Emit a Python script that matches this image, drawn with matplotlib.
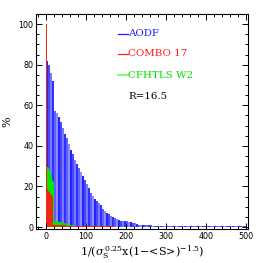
import numpy as np
import matplotlib
matplotlib.use("Agg")
import matplotlib.pyplot as plt
from matplotlib.ticker import MultipleLocator

# ---- data (percent per bin) ----
aodf_bin = 5
aodf = [82, 80, 76, 72, 57, 56, 54, 52, 49, 46,
        44, 41, 38, 36, 33, 31, 29, 27, 25, 23,
        21, 19, 17, 15.5, 14, 13, 12, 11, 9, 8,
        7, 6.3, 5.6, 5, 4.4, 3.9, 3.5, 3.2, 3.0, 2.9,
        2.8, 2.7, 2.5, 2.2, 1.8, 1.4, 1.2, 1.0, 0.9, 0.85,
        0.8, 0.8, 0.8, 0.75, 0.75, 0.7, 0.7, 0.7, 0.65, 0.65,
        0.6, 0.6, 0.6, 0.55, 0.55, 0.5, 0.5, 0.5, 0.5, 0.5,
        0.45, 0.45, 0.45, 0.45, 0.45, 0.4, 0.4, 0.4, 0.4, 0.4,
        0.4, 0.4, 0.4, 0.4, 0.4, 0.4, 0.4, 0.4, 0.4, 0.4,
        0.4, 0.4, 0.4, 0.4, 0.4, 0.4, 0.4, 0.4, 0.4, 0.4]
small_bin = 2.5
cfhtls = [0, 29.5, 29, 28, 27, 25, 23, 22, 3.0, 2.9,
          2.8, 2.7, 2.6, 2.5, 2.4, 2.3, 2.2, 2.1, 2.0, 1.8,
          1.5, 1.3, 1.2, 1.0, 1.0, 0.9, 0.8, 0.8, 0.7, 0.7,
          0.6, 0.6, 0.6, 0.5, 0.5, 0.5, 0.5, 0.5, 0.5, 0.5]
combo = [100, 18.5, 18, 17.5, 16.5, 16, 15.5, 0.9, 0.9, 0.9,
         0.8, 0.8, 0.8, 0.8, 0.8, 0.8, 0.8, 0.8, 0.8, 0.8,
         0.7, 0.7, 0.7, 0.7, 0.7, 0.7, 0.7, 0.7, 0.7, 0.7,
         0.7, 0.7, 0.6, 0.6, 0.6, 0.6, 0.6, 0.6, 0.6, 0.6,
         0.6, 0.6, 0.6, 0.6, 0.6, 0.6, 0.6, 0.6, 0.6, 0.6,
         0.5, 0.5, 0.5, 0.5, 0.5, 0.5, 0.5, 0.5, 0.5, 0.5,
         0.5, 0.5, 0.5, 0.5, 0.5, 0.5, 0.5, 0.5]
labels = ["AODF", "COMBO 17", "CFHTLS W2"]
annot = "R=16.5"

plt.rcParams['hatch.linewidth'] = 0.6
plt.rcParams['mathtext.fontset'] = 'dejavuserif'

fig = plt.figure(figsize=(2.63, 2.63), dpi=100)
ax = fig.add_axes([0.137, 0.129, 0.806, 0.818])

blue_shades = ['#2424ff', '#4848ff', '#7a7aff', '#3030ff', '#6060ff', '#8c8cff']
edges_a = np.arange(len(aodf)) * aodf_bin
ax.bar(edges_a, aodf, width=aodf_bin, align='edge', linewidth=0,
       color=[blue_shades[i % len(blue_shades)] for i in range(len(aodf))])
edges_c = np.arange(len(cfhtls)) * small_bin
ax.bar(edges_c, cfhtls, width=small_bin, align='edge', linewidth=0, color='#00e800')
edges_r = np.arange(len(combo)) * small_bin
ax.bar(edges_r, combo, width=small_bin, align='edge', linewidth=0,
       color='#ff1a1a', edgecolor='#c04a00', hatch='xxxx')

ax.set_xlim(-24, 505)
ax.set_ylim(-1, 105)

ax.xaxis.set_major_locator(MultipleLocator(100))
ax.xaxis.set_minor_locator(MultipleLocator(20))
ax.yaxis.set_major_locator(MultipleLocator(20))
ax.yaxis.set_minor_locator(MultipleLocator(5))
ax.tick_params(which='both', direction='in', top=True, right=True, width=0.7)
ax.tick_params(which='major', length=4, labelsize=5.8, pad=2)
ax.tick_params(which='minor', length=2)
for s in ax.spines.values():
    s.set_linewidth(0.8)

ax.set_xlabel(r'1/($\sigma_\mathrm{S}^{\,0.25}$x(1$-$<S>)$^{-1.5}$)',
              fontsize=8, family='DejaVu Serif', labelpad=2)
ax.set_ylabel('%', fontsize=8, family='DejaVu Serif', labelpad=4)

cols = ['#1a1aff', '#ff1a1a', '#80ff80']
tcols = ['#1a1aff', '#ff1a1a', '#00e000']
lws = [0.9, 0.9, 1.6]
ys = [0.907, 0.814, 0.716]
for lab, c, tc, lw, y in zip(labels, cols, tcols, lws, ys):
    ax.plot([0.387, 0.434], [y, y], color=c, lw=lw, transform=ax.transAxes)
    ax.text(0.434, y, lab, color=tc, fontsize=7.4, family='DejaVu Serif',
            va='center', ha='left', transform=ax.transAxes)
ax.text(0.434, 0.614, annot, color='black', fontsize=7.4, family='DejaVu Serif',
        va='center', ha='left', transform=ax.transAxes)

fig.savefig('out.png', dpi=100)
